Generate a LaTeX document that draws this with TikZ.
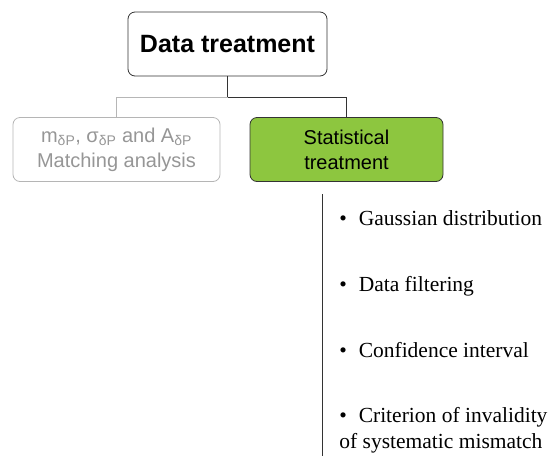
\documentclass[tikz,border=0pt]{standalone}
\usepackage{fontspec}
\setmainfont{Liberation Serif}
\setsansfont{Liberation Sans}
\usetikzlibrary{positioning}
\definecolor{leafgreen}{RGB}{141,198,63}
\definecolor{fadegray}{RGB}{150,150,150}

\begin{document}
\begin{tikzpicture}[x=1pt, y=-1pt, line width=0.8pt,
  box/.style={draw=black!80, rounded corners=7pt, align=center, inner sep=0pt,
    minimum height=64pt, minimum width=#1, font=\sffamily\fontsize{20}{25}\selectfont},
  item/.style={anchor=base west, inner sep=0pt, align=left, font=\fontsize{21.5}{26}\selectfont}]
\useasboundingbox (0,0) rectangle (551,456);
% boxes
\node[box=199pt, font=\sffamily\bfseries\fontsize{25}{30}\selectfont] (top) at (227.5,44) {Data treatment};
\node[box=207pt, draw=fadegray!70, text=fadegray] (match) at (116.5,149.5) {m\textsubscript{δP}, σ\textsubscript{δP} and A\textsubscript{δP}\\Matching analysis};
\node[box=193pt, fill=leafgreen] (stat) at (346.5,149.5) {Statistical\\treatment};
\coordinate (split) at (top.south |- 0,97);
\draw[black!80] (top.south) -- (split) -| (stat.north);
\draw[fadegray!70] (split) -| (match.north);
% list
\coordinate (listtop) at (322,194);
\coordinate (listend) at (322,456);
\draw[black!80] (listtop) -- (listend);
\node[item] (gauss) at (339,225.5) {\textbullet\hspace{0.55em}Gaussian distribution};
\node[item] (filter) at (339,291) {\textbullet\hspace{0.55em}Data filtering};
\node[item] (conf) at (339,357) {\textbullet\hspace{0.55em}Confidence interval};
\node[item] (crit) at (339,448) {\textbullet\hspace{0.55em}Criterion of invalidity\\of systematic mismatch};
\end{tikzpicture}
\end{document}
